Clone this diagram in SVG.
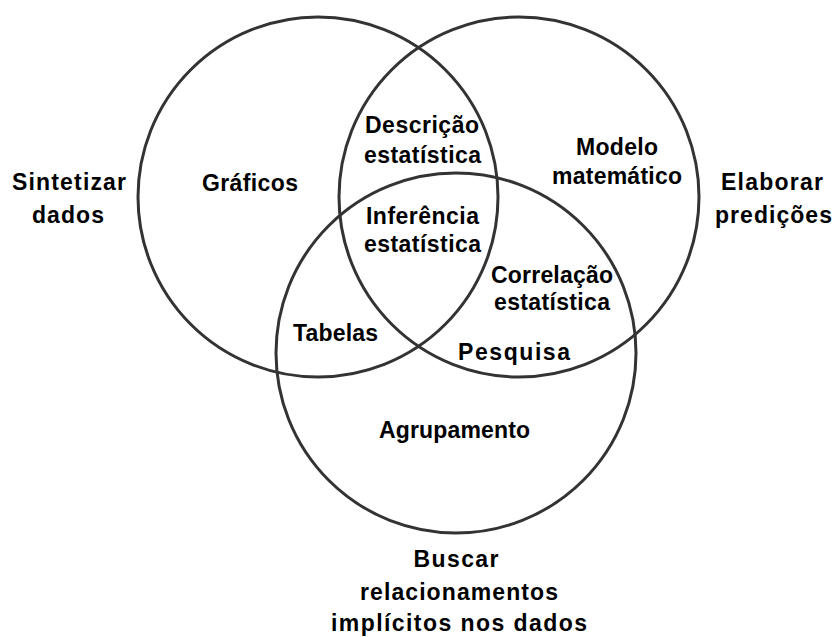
<svg xmlns="http://www.w3.org/2000/svg" width="835" height="637" viewBox="0 0 835 637">
  <style>
    .ring { fill: none; stroke: #333333; stroke-width: 3; }
    .lbl { font-family: "Liberation Sans", Arial, sans-serif; font-size: 23px; font-weight: bold; fill: #000000; text-anchor: middle; }
  </style>
  <rect x="0" y="0" width="835" height="637" fill="#ffffff"/>

  <!-- three overlapping sets -->
  <g id="set-sintetizar">
    <circle class="ring" cx="318" cy="197" r="180"/>
  </g>
  <g id="set-elaborar">
    <circle class="ring" cx="519" cy="197" r="180"/>
  </g>
  <g id="set-buscar">
    <circle class="ring" cx="456" cy="353" r="180"/>
  </g>

  <!-- set captions outside the circles -->
  <g id="caption-sintetizar">
    <text class="lbl" x="69" y="190" textLength="114">Sintetizar</text>
    <text class="lbl" x="68" y="223" textLength="72">dados</text>
  </g>
  <g id="caption-elaborar">
    <text class="lbl" x="772" y="190" textLength="102">Elaborar</text>
    <text class="lbl" x="773.5" y="223" textLength="117">predições</text>
  </g>
  <g id="caption-buscar">
    <text class="lbl" x="456" y="567" textLength="85">Buscar</text>
    <text class="lbl" x="459" y="600" textLength="198">relacionamentos</text>
    <text class="lbl" x="459" y="631" textLength="256">implícitos nos dados</text>
  </g>

  <!-- region labels -->
  <g id="region-graficos">
    <text class="lbl" x="250" y="191" textLength="96">Gráficos</text>
  </g>
  <g id="region-descricao">
    <text class="lbl" x="422" y="133" textLength="114">Descrição</text>
    <text class="lbl" x="422.5" y="163" textLength="117">estatística</text>
  </g>
  <g id="region-inferencia">
    <text class="lbl" x="422.5" y="224" textLength="113">Inferência</text>
    <text class="lbl" x="422.5" y="252" textLength="117">estatística</text>
  </g>
  <g id="region-tabelas">
    <text class="lbl" x="335.5" y="341" textLength="85">Tabelas</text>
  </g>
  <g id="region-modelo">
    <text class="lbl" x="617" y="155" textLength="82">Modelo</text>
    <text class="lbl" x="617" y="184" textLength="130">matemático</text>
  </g>
  <g id="region-correlacao">
    <text class="lbl" x="552" y="283" textLength="122">Correlação</text>
    <text class="lbl" x="552" y="310" textLength="116">estatística</text>
  </g>
  <g id="region-pesquisa">
    <text class="lbl" x="514" y="360" textLength="112">Pesquisa</text>
  </g>
  <g id="region-agrupamento">
    <text class="lbl" x="454.5" y="438" textLength="151">Agrupamento</text>
  </g>

  <g id="connectors"></g>
</svg>
